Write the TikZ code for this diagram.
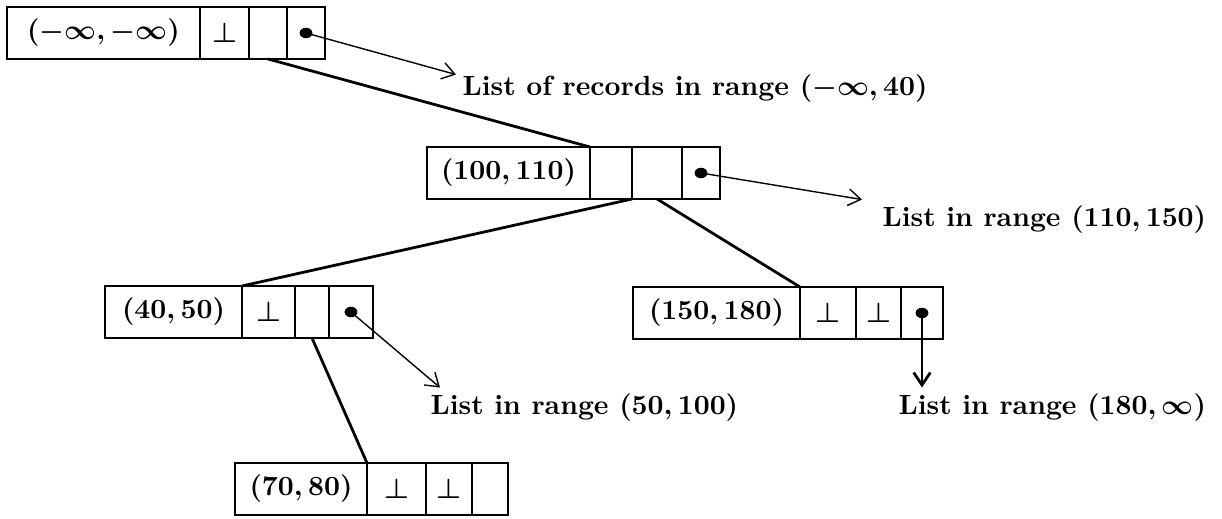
\documentclass[tikz,border=0pt]{standalone}
\usepackage{amsmath,amssymb}
\usetikzlibrary{arrows.meta,positioning}
\newlength\pxu
\setlength\pxu{0.36pt}
\tikzset{
  cellbox/.style={draw,line width=0.6pt,inner sep=0pt,outer sep=0pt,minimum height=52\pxu},
  keycell/.style={cellbox,anchor=north west,minimum width=#1\pxu},
  ptrcell/.style={cellbox,minimum width=#1\pxu},
  treeedge/.style={line width=1pt},
  ptrarrow/.style={line width=0.5pt,-{Straight Barb[length=4.5pt,width=6pt]}},
  listlabel/.style={anchor=west,inner sep=0pt}
}

\begin{document}
\begin{tikzpicture}[x=0.36pt,y=-0.36pt,font=\bfseries\boldmath]
  \useasboundingbox (0,0) rectangle (1222,519);
  % root record
  \node[keycell=193] (r1k) at (7,7) {$(-\infty,-\infty)$};
  \node[ptrcell=49,right=0pt of r1k] (r1a) {$\perp$};
  \node[ptrcell=38,right=0pt of r1a] (r1b) {};
  \node[ptrcell=38,right=0pt of r1b] (r1c) {};
  % second level
  \node[keycell=163] (r2k) at (427,147) {$(100,110)$};
  \node[ptrcell=42,right=0pt of r2k] (r2a) {};
  \node[ptrcell=50,right=0pt of r2a] (r2b) {};
  \node[ptrcell=38,right=0pt of r2b] (r2c) {};
  % third level
  \node[keycell=137] (r3k) at (105,286) {$(40,50)$};
  \node[ptrcell=53,right=0pt of r3k] (r3a) {$\perp$};
  \node[ptrcell=34,right=0pt of r3a] (r3b) {};
  \node[ptrcell=44,right=0pt of r3b] (r3c) {};
  \node[keycell=167] (r4k) at (633,287) {$(150,180)$};
  \node[ptrcell=56,right=0pt of r4k] (r4a) {$\perp$};
  \node[ptrcell=45,right=0pt of r4a] (r4b) {$\perp$};
  \node[ptrcell=42,right=0pt of r4b] (r4c) {};
  % leaf
  \node[keycell=132] (r5k) at (235,463) {$(70,80)$};
  \node[ptrcell=59,right=0pt of r5k] (r5a) {$\perp$};
  \node[ptrcell=46,right=0pt of r5a] (r5b) {$\perp$};
  \node[ptrcell=36,right=0pt of r5b] (r5c) {};
  % list pointers
  \foreach \c in {r1c,r2c,r3c,r4c} \fill (\c) ellipse[x radius=2.3pt,y radius=1.9pt];
  % tree links
  \draw[treeedge] (r1b.south) -- (r2a.north west);
  \draw[treeedge] (r2a.south east) -- (r3a.north west);
  \draw[treeedge] (r2b.south) -- (r4a.north west);
  \draw[treeedge] (r3b.south) -- (r5a.north west);
  % record lists
  \node[listlabel] (l1) at (462,89) {List of records in range $(-\infty,40)$};
  \node[listlabel] (l2) at (882,220) {List in range $(110,150)$};
  \node[listlabel] (l3) at (430,408) {List in range $(50,100)$};
  \node[listlabel] (l4) at (898,408) {List in range $(180,\infty)$};
  \draw[ptrarrow] (r1c.center) -- ([xshift=-6\pxu]l1.north west);
  \draw[ptrarrow] (r2c.center) -- ([xshift=-20\pxu,yshift=6\pxu]l2.north west);
  \draw[ptrarrow] (r3c.center) -- ([xshift=10\pxu,yshift=6\pxu]l3.north west);
  \draw[ptrarrow,line width=1pt] (r4c.center) -- ([yshift=6\pxu]r4c.center |- l4.north);
\end{tikzpicture}
\end{document}
